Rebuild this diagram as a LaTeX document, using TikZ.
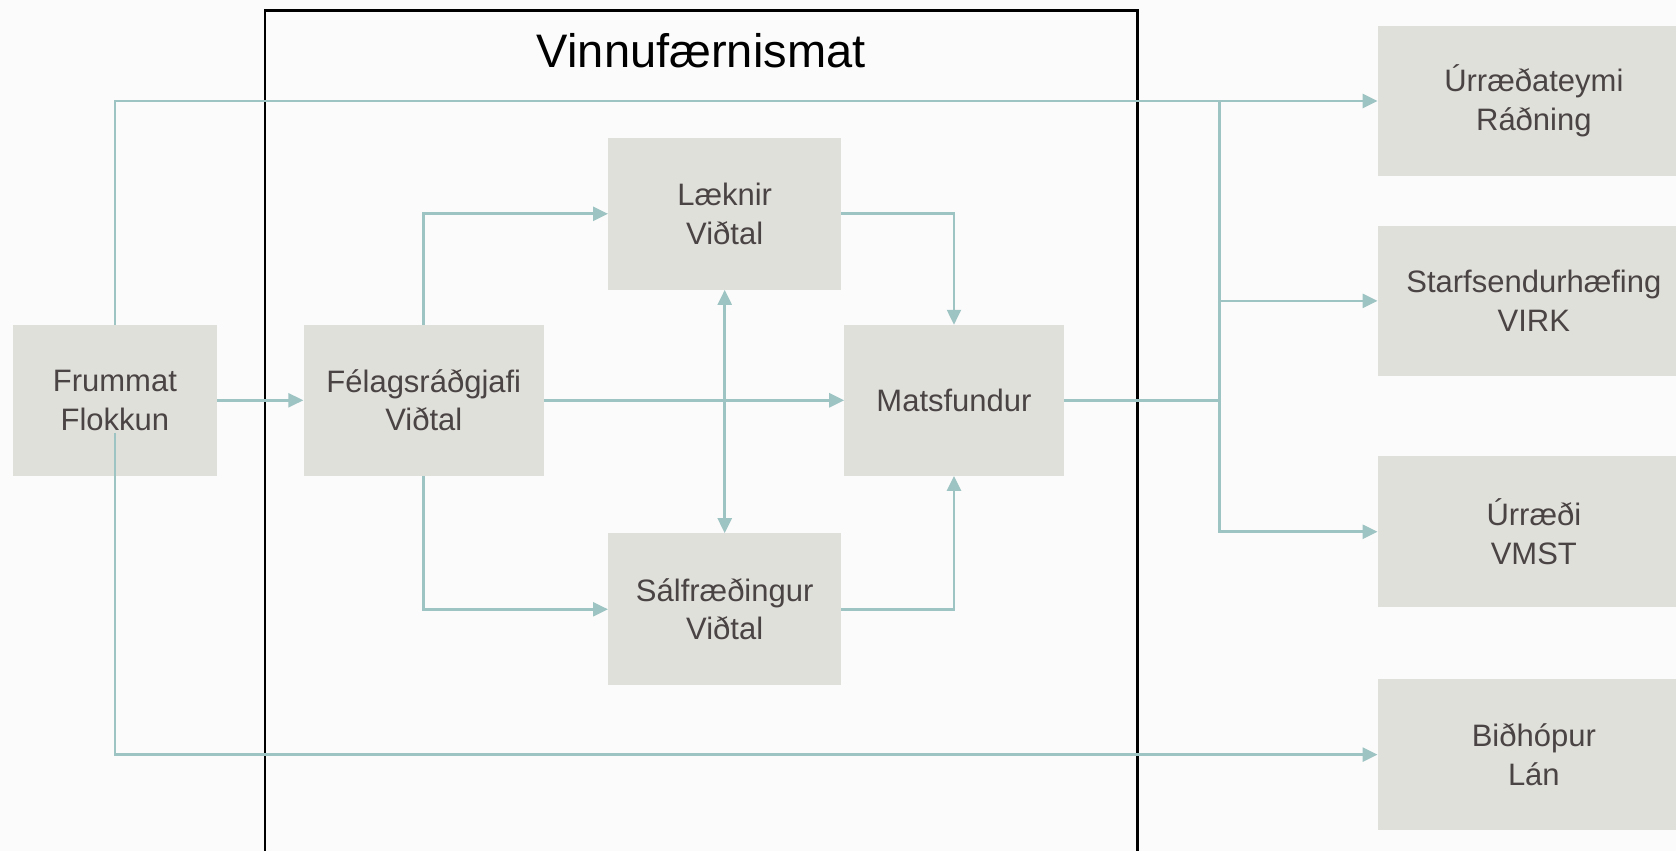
\documentclass[tikz,border=0pt]{standalone}
\usepackage{fontspec}
\setmainfont{Liberation Sans}
\usetikzlibrary{arrows.meta}
\definecolor{bg}{RGB}{251,251,251}
\definecolor{boxgray}{RGB}{224,224,219}
\definecolor{txtgray}{RGB}{74,68,68}
\definecolor{teal}{RGB}{157,195,194}
\tikzset{
  box/.style={rectangle, fill=boxgray, text=txtgray, align=center, inner sep=0pt,
    font=\fontsize{29}{36}\selectfont},
  conn/.style={draw=teal, line width=2.5pt, -{Triangle[length=14pt,width=13pt]}},
  plain/.style={draw=teal, line width=2.5pt},
}
\begin{document}
\begin{tikzpicture}[x=1pt,y=-1pt]
\useasboundingbox (0,0) rectangle (1568,796);
\clip (0,0) rectangle (1568,796);
\fill[bg] (0,0) rectangle (1568,796);
% frame
\draw[black, line width=2.5pt] (248,800) -- (248,10) -- (1064,10) -- (1064,800);
\node (title) at (656,47) {\fontsize{44}{50}\selectfont Vinnufærnismat};
% nodes
\node[box, minimum width=191pt, minimum height=141pt] (fr) at (107.5,374.5) {Frummat\\Flokkun};
\node[box, minimum width=225pt, minimum height=141pt] (fe) at (396.5,374.5) {Félagsráðgjafi\\Viðtal};
\node[box, minimum width=218pt, minimum height=142pt] (la) at (678,200) {Læknir\\Viðtal};
\node[box, minimum width=218pt, minimum height=142pt] (sa) at (678,570) {Sálfræðingur\\Viðtal};
\node[box, minimum width=205pt, minimum height=141pt] (ms) at (892.5,374.5) {Matsfundur};
\node[box, minimum width=292pt, minimum height=141pt] (ur) at (1435,94.5) {Úrræðateymi\\Ráðning};
\node[box, minimum width=292pt, minimum height=141pt] (st) at (1435,281.5) {Starfsendurhæfing\\VIRK};
\node[box, minimum width=292pt, minimum height=141pt] (uu) at (1435,497.5) {Úrræði\\VMST};
\node[box, minimum width=292pt, minimum height=141pt] (bi) at (1435,706) {Biðhópur\\Lán};
% connectors
\draw[conn] (fr.east) -- (fe.west);
\draw[conn] (fr.north) |- (ur.west);
\coordinate (frb) at (107.5,405);
\draw[conn] (frb) |- (bi.west);
\draw[conn] (fe.north) |- (la.west);
\draw[conn] (fe.south) |- (sa.west);
\draw[conn] (fe.east) -- (ms.west);
\draw[conn, {Triangle[length=14pt,width=13pt]}-{Triangle[length=14pt,width=13pt]}] (la.south) -- (sa.north);
\draw[conn] (la.east) -| (ms.north);
\draw[conn] (sa.east) -| (ms.south);
\coordinate (j) at (1141,374.5);
\draw[plain] (ms.east) -- (j);
\draw[plain] (j) -- (j |- ur.west);
\draw[conn] (j) |- (st.west);
\draw[conn] (j) |- (uu.west);
\end{tikzpicture}
\end{document}
